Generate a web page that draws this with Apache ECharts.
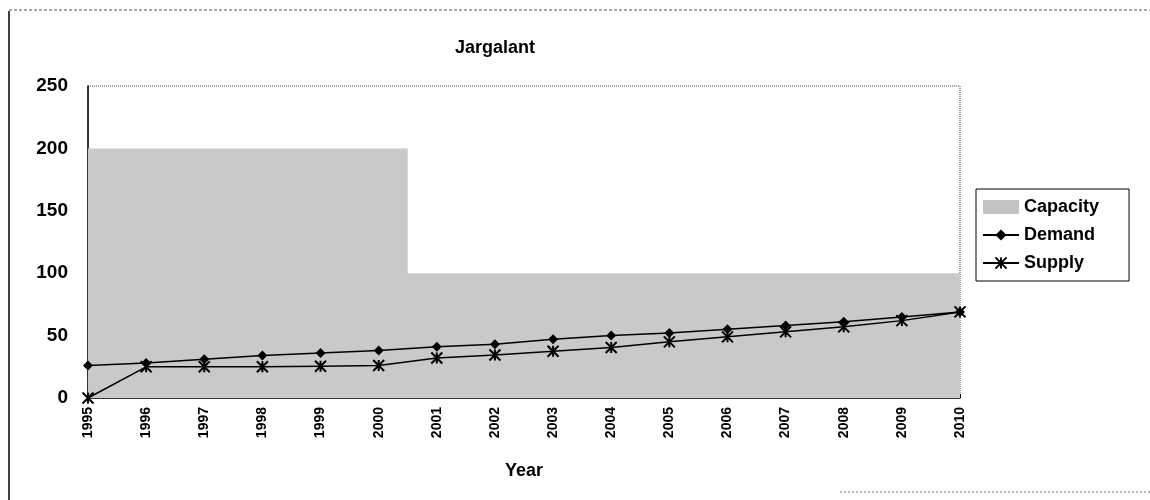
<!DOCTYPE html>
<html>
<head>
<meta charset="utf-8">
<script src="https://cdn.jsdelivr.net/npm/echarts@6/dist/echarts.min.js"></script>
<style>
  html, body { margin: 0; padding: 0; background: #fff; }
  #chart { width: 1150px; height: 500px; }
</style>
</head>
<body>
<div id="chart"></div>
<script>
// data
const years = ['1995', '1996', '1997', '1998', '1999', '2000', '2001', '2002',
  '2003', '2004', '2005', '2006', '2007', '2008', '2009', '2010']
const capacity = [200, 200, 200, 200, 200, 200, 100, 100, 100, 100, 100, 100, 100, 100, 100, 100]
const demand = [26, 28, 31, 34, 36, 38, 41, 43, 47, 50, 52, 55, 58, 61, 65, 69]
const supply = [0, 25, 25, 25, 25.5, 26, 32, 34.5, 37.5, 40.5, 45, 49, 53, 57, 62, 69]

const font = 'Arial, "Liberation Sans", sans-serif'
const narrow = '"Liberation Sans Narrow", Arial, sans-serif'
const starPath = 'path://M0,0L10,10M10,0L0,10M5,0L5,10'

const chart = echarts.init(document.getElementById('chart'))
chart.setOption({
  animation: false,
  backgroundColor: '#fff',
  title: {
    text: 'Jargalant',
    left: 490,
    textAlign: 'center',
    top: 34,
    textStyle: { fontFamily: narrow, fontSize: 18, fontWeight: 'bold', color: '#000' }
  },
  legend: {
    orient: 'vertical',
    left: 976,
    top: 189,
    padding: [9, 30, 9, 6],
    itemGap: 10,
    itemWidth: 36,
    itemHeight: 14,
    borderColor: '#000',
    borderWidth: 1,
    textStyle: { fontFamily: font, fontSize: 18, fontWeight: 'bold', color: '#000' },
    data: [
      { name: 'Capacity', icon: 'rect' },
      { name: 'Demand' },
      { name: 'Supply' }
    ]
  },
  grid: {
    left: 88,
    right: 190,
    top: 86,
    bottom: 102,
    show: true,
    borderColor: '#444',
    borderWidth: 1,
    borderType: 'dotted'
  },
  xAxis: {
    type: 'category',
    data: years,
    boundaryGap: false,
    name: 'Year',
    nameLocation: 'middle',
    nameGap: 64,
    nameTextStyle: { fontFamily: narrow, fontSize: 18, fontWeight: 'bold', color: '#000' },
    axisLine: { lineStyle: { color: '#000', width: 1.5 } },
    axisTick: { inside: true, length: 4, lineStyle: { color: '#000' } },
    axisLabel: { rotate: 90, fontFamily: font, fontSize: 14, fontWeight: 'bold', color: '#000', margin: 9 },
    splitLine: { show: false }
  },
  yAxis: {
    type: 'value',
    min: 0,
    max: 250,
    interval: 50,
    axisLine: { show: true, lineStyle: { color: '#000', width: 1.5 } },
    axisTick: { show: false },
    axisLabel: { fontFamily: font, fontSize: 19, fontWeight: 'bold', color: '#000', margin: 20 },
    splitLine: { show: false }
  },
  graphic: [
    { type: 'line', shape: { x1: 9, y1: 11, x2: 9, y2: 500 }, style: { stroke: '#000', lineWidth: 1.5 } },
    { type: 'line', shape: { x1: 9, y1: 10, x2: 1150, y2: 10 }, style: { stroke: '#555', lineWidth: 1, lineDash: [3, 2] } },
    { type: 'line', shape: { x1: 840, y1: 492, x2: 1150, y2: 492 }, style: { stroke: '#777', lineWidth: 1, lineDash: [2, 2] } }
  ],
  series: [
    {
      name: 'Capacity',
      type: 'line',
      step: 'middle',
      data: capacity,
      symbol: 'none',
      lineStyle: { width: 0, color: '#c4c4c4' },
      itemStyle: { color: '#c4c4c4' },
      areaStyle: { color: '#c9c9c9', opacity: 1 },
      z: 1
    },
    {
      name: 'Demand',
      type: 'line',
      data: demand,
      symbol: 'diamond',
      symbolSize: 10,
      lineStyle: { color: '#000', width: 1.5 },
      itemStyle: { color: '#000' },
      z: 3
    },
    {
      name: 'Supply',
      type: 'line',
      data: supply,
      symbol: starPath,
      symbolSize: 11,
      lineStyle: { color: '#000', width: 1.5 },
      itemStyle: { color: '#000', borderColor: '#000', borderWidth: 2 },
      z: 4
    }
  ]
})
</script>
</body>
</html>
